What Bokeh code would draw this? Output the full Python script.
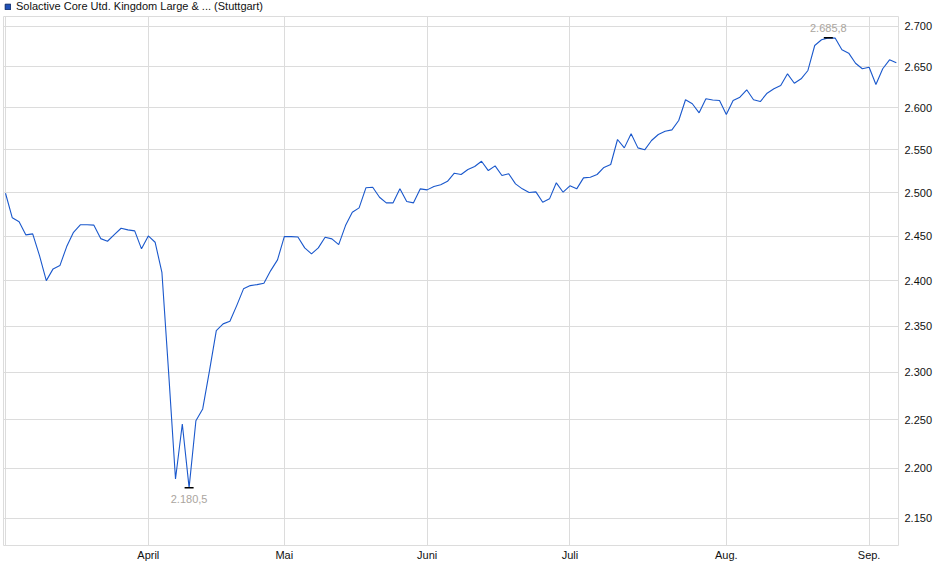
from bokeh.plotting import figure
from bokeh.layouts import column
from bokeh.models import (Range1d, FixedTicker, Legend, LegendItem, Label,
                          ColumnDataSource)
from bokeh.embed import file_html
from bokeh.resources import INLINE

# ---- data (trading-day index, Mar 3 2025 .. Sep 5 2025) ----
values = [
    2499.2, 2470.9, 2466.3, 2451.4, 2452.6, 2428.0, 2400.0, 2413.1, 2416.8, 2438.2,
    2454.4, 2462.9, 2462.9, 2462.5, 2447.2, 2444.2, 2451.8, 2459.0, 2457.1, 2456.0,
    2435.6, 2450.3, 2443.1, 2409.3, 2298.8, 2189.2, 2245.8, 2180.5, 2249.2, 2261.5,
    2302.0, 2345.1, 2352.4, 2355.2, 2372.4, 2390.9, 2394.5, 2395.6, 2397.1, 2411.2,
    2423.2, 2449.5, 2449.5, 2449.0, 2436.7, 2429.9, 2436.7, 2448.7, 2446.9, 2440.4,
    2462.0, 2477.3, 2482.3, 2505.5, 2506.2, 2494.6, 2488.1, 2488.1, 2504.3, 2489.6,
    2488.1, 2504.3, 2503.1, 2507.0, 2509.1, 2513.1, 2522.5, 2521.0, 2526.8, 2530.3,
    2536.5, 2525.6, 2531.1, 2519.8, 2521.8, 2510.1, 2504.3, 2500.0, 2500.8, 2488.8,
    2492.7, 2511.3, 2500.4, 2507.8, 2504.3, 2517.1, 2517.8, 2521.0, 2529.2, 2532.7,
    2562.2, 2552.3, 2569.0, 2552.3, 2550.0, 2561.0, 2568.2, 2572.1, 2573.7, 2584.9,
    2609.8, 2605.0, 2594.1, 2611.0, 2609.5, 2608.9, 2592.1, 2608.9, 2612.9, 2621.9,
    2609.8, 2607.7, 2617.8, 2623.1, 2627.2, 2641.4, 2629.9, 2635.3, 2645.5, 2676.3,
    2683.4, 2685.8, 2685.5, 2671.0, 2666.8, 2654.4, 2647.6, 2649.5, 2628.4, 2647.6,
    2658.6, 2654.9,
]
index = list(range(len(values)))

month_ticks = [0, 21, 41, 62, 83, 106, 127]
month_labels = ["", "April", "Mai", "Juni", "Juli", "Aug.", "Sep."]

y_ticks = [2150, 2200, 2250, 2300, 2350, 2400, 2450, 2500, 2550, 2600, 2650, 2700]
y_labels = ["2.150", "2.200", "2.250", "2.300", "2.350", "2.400", "2.450",
            "2.500", "2.550", "2.600", "2.650", "2.700"]

series_name = "Solactive Core Utd. Kingdom Large & ... (Stuttgart)"
min_idx, min_val, min_text = 27, 2180.5, "2.180,5"
max_idx, max_val, max_text = 121, 2685.8, "2.685,8"

FONT = "Liberation Sans"
GRID = "#dcdcdc"
LINE = "#1a58cc"
NOTE = "#aaa59e"
W = 936

# ---------- legend strip ----------
top = figure(width=W, height=16, output_backend="svg", toolbar_location=None,
             x_axis_type=None, y_axis_type=None,
             x_range=Range1d(0, 1), y_range=Range1d(0, 1),
             min_border_left=0, min_border_right=0, min_border_top=0,
             min_border_bottom=0)
top.outline_line_color = None
top.xgrid.visible = False
top.ygrid.visible = False
swatch = top.quad(left=[5], right=[6], top=[6], bottom=[5],
                  fill_color="#1f50b8", line_color="#0f2a66")
legend = Legend(items=[LegendItem(label=series_name, renderers=[swatch])],
                location=(1, 4), orientation="horizontal", margin=0,
                padding=0, spacing=0, glyph_width=7, glyph_height=7,
                label_standoff=5, label_height=12, label_width=10,
                border_line_color=None, background_fill_alpha=0,
                label_text_font=FONT, label_text_font_size="11px",
                label_text_color="#111111")
top.add_layout(legend, "center")

# ---------- main chart ----------
p = figure(width=W, height=554, output_backend="svg", toolbar_location=None,
           y_axis_type="log", y_axis_location="right",
           x_range=Range1d(-0.294, 131.32), y_range=Range1d(2122.8, 2712.5),
           min_border_left=3, min_border_top=0, min_border_right=38,
           min_border_bottom=25)
p.background_fill_color = "white"
p.border_fill_color = "white"
p.outline_line_color = GRID

src = ColumnDataSource(dict(x=index, y=values))
p.line("x", "y", source=src, line_color=LINE, line_width=1.1)

xt = FixedTicker(ticks=month_ticks)
p.xaxis.ticker = xt
p.xgrid.ticker = xt
p.xaxis.major_label_overrides = {t: l for t, l in zip(month_ticks, month_labels)}
yt = FixedTicker(ticks=y_ticks)
p.yaxis.ticker = yt
p.ygrid.ticker = yt
p.yaxis.major_label_overrides = {t: l for t, l in zip(y_ticks, y_labels)}

for ax in (p.xaxis, p.yaxis):
    ax.axis_line_color = None
    ax.major_tick_line_color = None
    ax.minor_tick_line_color = None
    ax.major_tick_out = 0
    ax.major_tick_in = 0
    ax.major_label_text_font = FONT
    ax.major_label_text_font_size = "11px"
    ax.major_label_text_color = "#111111"
p.xaxis.major_label_standoff = 3
p.yaxis.major_label_standoff = 6

p.xgrid.grid_line_color = GRID
p.ygrid.grid_line_color = GRID

p.scatter(x=[min_idx, max_idx], y=[min_val, max_val], marker="dash", size=9,
          line_color="black", line_width=1.5)
p.add_layout(Label(x=min_idx, y=min_val, text=min_text, text_align="center",
                   text_baseline="alphabetic", y_offset=-11, text_font=FONT,
                   text_font_size="11px", text_color=NOTE))
p.add_layout(Label(x=max_idx, y=max_val, text=max_text, text_align="center",
                   text_baseline="alphabetic", y_offset=10, text_font=FONT,
                   text_font_size="11px", text_color=NOTE))

layout = column(top, p, spacing=0)
open("out.html", "w").write(file_html(layout, INLINE))
